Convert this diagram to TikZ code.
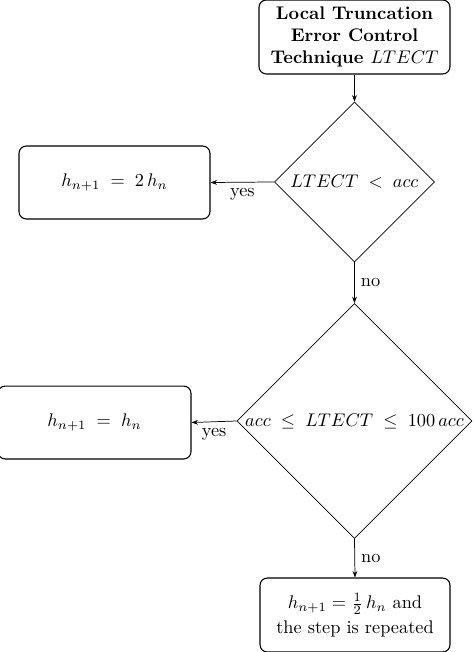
\documentclass[tikz,border=0pt]{standalone}
\usepackage{amsmath}
\usepackage{tikz}
\usetikzlibrary{shapes.geometric, arrows.meta}
\tikzset{
    procBox/.style={draw, rounded corners=4pt, line width=0.6pt, align=center,
        minimum height=1.42cm, inner sep=2pt},
    testDiamond/.style={draw, diamond, aspect=1, inner sep=0pt},
    flowArrow/.style={-{Stealth[length=3.5pt, width=2.6pt]}},
    branchLabel/.style={font=\normalsize}
}

\begin{document}
\begin{tikzpicture}
    \useasboundingbox (0,0) rectangle (9.083,12.518);

    \node[procBox, minimum width=3.667cm, font=\bfseries] (ltect) at (6.806,11.808)
        {Local Truncation\\Error Control\\Technique $LTECT$};

    \node[testDiamond, minimum width=3.072cm, minimum height=3.072cm] (testLow) at (6.806,9.024)
        {$LTECT \;<\; acc$};
    \node[procBox, minimum width=3.667cm, minimum height=1.40cm] (doubleStep) at (2.198,9.014)
        {$h_{n+1} \;=\; 2\,h_n$};

    \node[testDiamond, minimum width=4.512cm, minimum height=4.512cm] (testMid) at (6.806,4.435)
        {$acc \;\leq\; LTECT \;\leq\; 100\,acc$};
    \node[procBox, minimum width=3.706cm, minimum height=1.40cm] (keepStep) at (1.814,4.406)
        {$h_{n+1} \;=\; h_n$};

    \node[procBox, minimum width=3.648cm] (halveStep) at (6.816,0.710)
        {$h_{n+1} = \frac{1}{2}\,h_n$ and\\[1.5pt]the step is repeated};

    \draw[flowArrow] (ltect) -- (testLow);
    \draw[flowArrow] (testLow.west) -- node[below, branchLabel] {yes} (doubleStep.east);
    \draw[flowArrow] (testLow.south) -- node[right, branchLabel] {no} (testMid.north);
    \draw[flowArrow] (testMid.west) -- node[below, branchLabel] {yes} (keepStep.east);
    \draw[flowArrow] (testMid.south) -- node[right, branchLabel] {no} (halveStep.north);
\end{tikzpicture}
\end{document}
